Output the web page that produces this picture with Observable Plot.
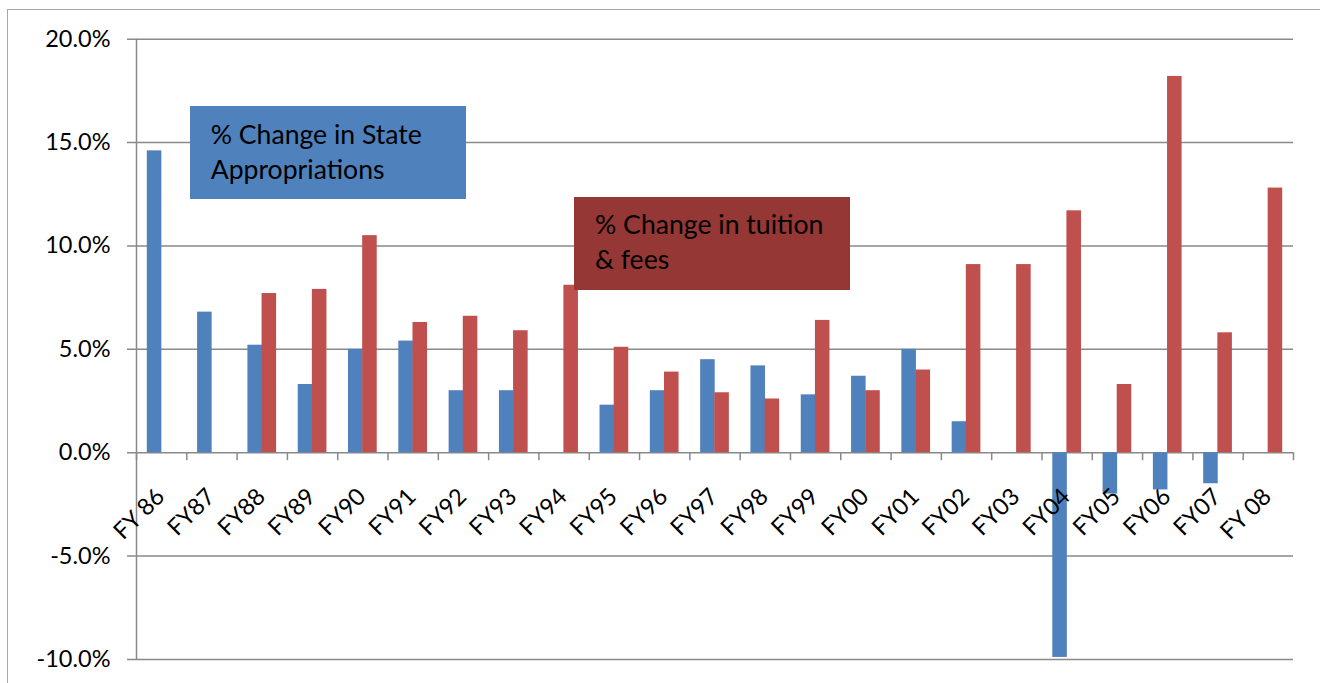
<!DOCTYPE html>
<html>
<head>
<meta charset="utf-8">
<script src="https://cdn.jsdelivr.net/npm/d3@7"></script>
<script src="https://cdn.jsdelivr.net/npm/@observablehq/plot@0.6"></script>
<style>
  html, body { margin: 0; padding: 0; background: #fff; }
  #wrap { position: relative; width: 1320px; height: 683px; overflow: hidden; font-family: Lato, sans-serif; }
  #wrap svg { position: absolute; left: 0; top: 0; }
  .border { position: absolute; left: 7px; top: 9px; width: 1400px; height: 800px;
            border-top: 1.5px solid #a6a6a6; border-left: 1.5px solid #a6a6a6; }
  .note { position: absolute; box-sizing: border-box; color: #000; font-size: 26.6px; line-height: 35px; }
</style>
</head>
<body>
<div id="wrap"><div class="border"></div></div>
<script>
// ---- data ----
const categories = ["FY 86","FY87","FY88","FY89","FY90","FY91","FY92","FY93","FY94","FY95","FY96","FY97","FY98","FY99","FY00","FY01","FY02","FY03","FY04","FY05","FY06","FY07","FY 08"];
const stateChange   = [14.6, 6.8, 5.2, 3.3, 5.0, 5.4, 3.0, 3.0, null, 2.3, 3.0, 4.5, 4.2, 2.8, 3.7, 5.0, 1.5, null, -9.9, -2.0, -1.8, -1.5, null];
const tuitionChange = [null, null, 7.7, 7.9, 10.5, 6.3, 6.6, 5.9, 8.1, 5.1, 3.9, 2.9, 2.6, 6.4, 3.0, 4.0, 9.1, 9.1, 11.7, 3.3, 18.2, 5.8, 12.8];
const yTicks = [-10, -5, 0, 5, 10, 15, 20];
const stateLabelLines = ["% Change in State", "Appropriations"];
const tuitionLabelLines = ["% Change in tuition", "& fees"];
const colors = {state: "#4F81BD", tuition: "#C0504D", tuitionNote: "#953735"};

const stateRows = categories.map((c, i) => ({category: c, value: stateChange[i]})).filter(d => d.value != null);
const tuitionRows = categories.map((c, i) => ({category: c, value: tuitionChange[i]})).filter(d => d.value != null);

const W = 1320, H = 683, mL = 136, mR = 27, mT = 38.7, mB = 24;
const bw = (W - mL - mR) / categories.length;
const grid = "#898989";

const chart = Plot.plot({
  width: W, height: H,
  marginLeft: mL, marginRight: mR, marginTop: mT, marginBottom: mB,
  style: {background: "transparent", fontFamily: "Lato, sans-serif", overflow: "visible"},
  x: {domain: categories, padding: 0, round: false, axis: null},
  y: {domain: [-10, 20], axis: null},
  marks: [
    Plot.ruleY(yTicks, {y: d => d, stroke: grid, strokeWidth: 1.5, insetLeft: -9}),
    Plot.ruleX([categories[0]], {x: d => d, y1: -10, y2: 20, dx: -bw / 2, stroke: grid, strokeWidth: 1.5}),
    Plot.ruleX(categories, {x: d => d, y1: () => 0, y2: () => 0, insetBottom: -8, dx: -bw / 2, stroke: grid, strokeWidth: 1.5}),
    Plot.ruleX([categories[categories.length - 1]], {x: d => d, y1: () => 0, y2: () => 0, insetBottom: -8, dx: bw / 2, stroke: grid, strokeWidth: 1.5}),
    Plot.barY(stateRows, {x: "category", y: "value", fill: colors.state, insetLeft: 10.8, insetRight: bw / 2 - 0.2}),
    Plot.barY(tuitionRows, {x: "category", y: "value", fill: colors.tuition, insetLeft: bw / 2 - 0.2, insetRight: 10.8}),
    Plot.text(yTicks, {y: d => d, text: d => d.toFixed(1) + "%", frameAnchor: "left", textAnchor: "end", dx: -26, fontSize: 23.5, fill: "#000"}),
    Plot.text(categories, {x: d => d, y: () => 0, text: d => d, rotate: -45, textAnchor: "end", dx: -1, dy: 40, fontSize: 23.5, fill: "#000"})
  ]
});
const wrap = document.getElementById("wrap");
wrap.appendChild(chart);

function note(lines, left, top, padL, padT, bg) {
  const div = document.createElement("div");
  div.className = "note";
  Object.assign(div.style, {left: left + "px", top: top + "px", width: "276px", height: "93px",
    paddingLeft: padL + "px", paddingTop: padT + "px", background: bg});
  lines.forEach((t, i) => { if (i) div.appendChild(document.createElement("br")); div.appendChild(document.createTextNode(t)); });
  wrap.appendChild(div);
}
note(stateLabelLines, 190, 106, 20.7, 11, colors.state);
note(tuitionLabelLines, 574, 197, 21, 10, colors.tuitionNote);
</script>
</body>
</html>
